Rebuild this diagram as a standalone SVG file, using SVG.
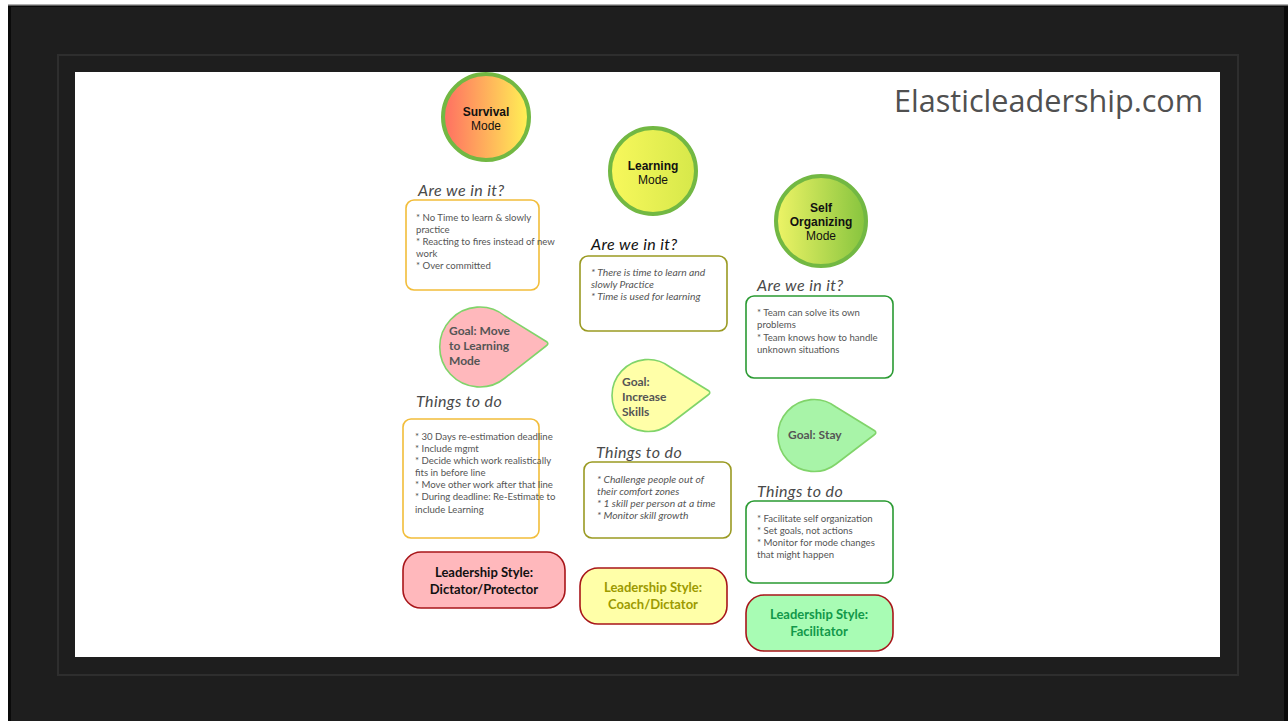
<svg xmlns="http://www.w3.org/2000/svg" width="1288" height="721" viewBox="0 0 1288 721">
<defs>
<linearGradient id="gSurv" x1="0" y1="0" x2="1" y2="0"><stop offset="0" stop-color="#ff6e62"/><stop offset="1" stop-color="#fff255"/></linearGradient>
<linearGradient id="gLearn" x1="0" y1="0" x2="1" y2="0"><stop offset="0" stop-color="#f8f85c"/><stop offset="1" stop-color="#d6e84a"/></linearGradient>
<linearGradient id="gSelf" x1="0" y1="0" x2="1" y2="0"><stop offset="0" stop-color="#eef466"/><stop offset="1" stop-color="#86c43e"/></linearGradient>
<style>
.mode{stroke:#72b843;stroke-width:4}
.mt{font-family:"Liberation Sans",Arial,sans-serif;font-size:12px;fill:#111;text-anchor:middle}
.b{font-weight:bold}
.hd{font-family:Lato,"Open Sans",sans-serif;font-style:italic;font-size:16px;fill:#4a4a4a;letter-spacing:0.4px}
.box{fill:#fff;stroke-width:1.6}
.or{stroke:#f2bd3a}.ol{stroke:#9a9a22}.gr{stroke:#2a9a32}
.bt{font-family:Lato,"Open Sans",sans-serif;font-size:9.6px;fill:#555}
.it{font-style:italic;font-size:10.3px}
.drop{stroke:#80d46a;stroke-width:1.6}
.gt{font-family:Lato,"Open Sans",sans-serif;font-size:12px;font-weight:bold;fill:#555}
.ls{stroke:#a8161a;stroke-width:1.6}
.lt{font-family:Lato,"Open Sans",sans-serif;font-size:13px;font-weight:bold;text-anchor:middle}
</style>
</defs>
<rect x="0" y="0" width="1288" height="721" fill="#fff"/>
<rect x="8" y="4" width="1280" height="717" fill="#0a0a0a"/>
<rect x="8" y="4" width="1280" height="1.5" fill="#b0b0b0"/>
<rect x="11" y="7" width="1273" height="714" fill="#1e1e1e"/>
<rect x="58" y="55" width="1180" height="620" fill="none" stroke="#2e2e2e" stroke-width="2"/>
<rect x="75" y="72" width="1145" height="585" fill="#fff"/>
<text x="894" y="112" font-family="'Open Sans',Lato,sans-serif" font-size="30.6" fill="#505050">Elasticleadership.com</text>

<g id="survival-mode">
<circle cx="486" cy="117" r="43" fill="url(#gSurv)" class="mode"/>
<text class="mt b" x="486" y="116">Survival</text>
<text class="mt" x="486" y="130">Mode</text>
</g>
<g id="learning-mode">
<circle cx="653" cy="171" r="43" fill="url(#gLearn)" class="mode"/>
<text class="mt b" x="653" y="170">Learning</text>
<text class="mt" x="653" y="184">Mode</text>
</g>
<g id="self-mode">
<circle cx="821" cy="221" r="45" fill="url(#gSelf)" class="mode"/>
<text class="mt b" x="821" y="212">Self</text>
<text class="mt b" x="821" y="226">Organizing</text>
<text class="mt" x="821" y="240">Mode</text>
</g>

<g id="survival-in">
<text class="hd" x="418" y="196">Are we in it?</text>
<rect class="box or" x="406" y="200" width="133" height="90" rx="8"/>
<text class="bt" x="416" y="221">* No Time to learn &amp; slowly</text>
<text class="bt" x="416" y="233">practice</text>
<text class="bt" x="416" y="245">* Reacting to fires instead of new</text>
<text class="bt" x="416" y="257">work</text>
<text class="bt" x="416" y="269">* Over committed</text>
</g>
<g id="learning-in">
<text class="hd" x="591" y="250" style="fill:#111">Are we in it?</text>
<rect class="box ol" x="580" y="256" width="147" height="75" rx="8"/>
<text class="bt it" x="591" y="276">* There is time to learn and</text>
<text class="bt it" x="591" y="288">slowly Practice</text>
<text class="bt it" x="591" y="300">* Time is used for learning</text>
</g>
<g id="self-in">
<text class="hd" x="757" y="291">Are we in it?</text>
<rect class="box gr" x="746" y="296" width="147" height="82" rx="8"/>
<text class="bt" x="757" y="316">* Team can solve its own</text>
<text class="bt" x="757" y="328">problems</text>
<text class="bt" x="757" y="341">* Team knows how to handle</text>
<text class="bt" x="757" y="353">unknown situations</text>
</g>

<g id="survival-goal">
<path class="drop" fill="#ffb8bc" d="M547,342 Q549,344 546,346 L505,378 A40,40 0 1 1 505,316 Z"/>
<text class="gt" x="449" y="335">Goal: Move</text>
<text class="gt" x="449" y="350">to Learning</text>
<text class="gt" x="449" y="365">Mode</text>
</g>
<g id="learning-goal">
<path class="drop" fill="#ffffa8" d="M709,391 Q711,393 708,395 L670,424 A36,36 0 1 1 670,367 Z"/>
<text class="gt" x="622" y="386">Goal:</text>
<text class="gt" x="622" y="401">Increase</text>
<text class="gt" x="622" y="416">Skills</text>
</g>
<g id="self-goal">
<path class="drop" fill="#a8f4a8" d="M875,431 Q877,433 874,435 L836,464 A36,36 0 1 1 836,407 Z"/>
<text class="gt" x="788" y="439">Goal: Stay</text>
</g>

<g id="survival-todo">
<text class="hd" x="416" y="407">Things to do</text>
<rect class="box or" x="403" y="419" width="136" height="119" rx="8"/>
<text class="bt" x="415" y="440">* 30 Days re-estimation deadline</text>
<text class="bt" x="415" y="452">* Include mgmt</text>
<text class="bt" x="415" y="464">* Decide which work realistically</text>
<text class="bt" x="415" y="476">fits in before line</text>
<text class="bt" x="415" y="488">* Move other work after that line</text>
<text class="bt" x="415" y="500">* During deadline: Re-Estimate to</text>
<text class="bt" x="415" y="513">include Learning</text>
</g>
<g id="learning-todo">
<text class="hd" x="596" y="458">Things to do</text>
<rect class="box ol" x="584" y="462" width="147" height="76" rx="8"/>
<text class="bt it" x="597" y="483">* Challenge people out of</text>
<text class="bt it" x="597" y="495">their comfort zones</text>
<text class="bt it" x="597" y="507">* 1 skill per person at a time</text>
<text class="bt it" x="597" y="519">* Monitor skill growth</text>
</g>
<g id="self-todo">
<text class="hd" x="757" y="497">Things to do</text>
<rect class="box gr" x="746" y="501" width="147" height="82" rx="8"/>
<text class="bt" x="757" y="522">* Facilitate self organization</text>
<text class="bt" x="757" y="534">* Set goals, not actions</text>
<text class="bt" x="757" y="546">* Monitor for mode changes</text>
<text class="bt" x="757" y="558">that might happen</text>
</g>

<g id="survival-style">
<rect class="ls" fill="#ffb8bc" x="403" y="552" width="162" height="56" rx="18"/>
<text class="lt" x="484" y="577" fill="#111">Leadership Style:</text>
<text class="lt" x="484" y="594" fill="#111">Dictator/Protector</text>
</g>
<g id="learning-style">
<rect class="ls" fill="#ffffa8" x="580" y="568" width="147" height="56" rx="18"/>
<text class="lt" x="653" y="592" fill="#9c9a00">Leadership Style:</text>
<text class="lt" x="653" y="609" fill="#9c9a00">Coach/Dictator</text>
</g>
<g id="self-style">
<rect class="ls" fill="#a8fcb4" x="746" y="595" width="147" height="56" rx="18"/>
<text class="lt" x="819" y="619" fill="#12984a">Leadership Style:</text>
<text class="lt" x="819" y="636" fill="#12984a">Facilitator</text>
</g>
<g id="connectors"></g>
</svg>
